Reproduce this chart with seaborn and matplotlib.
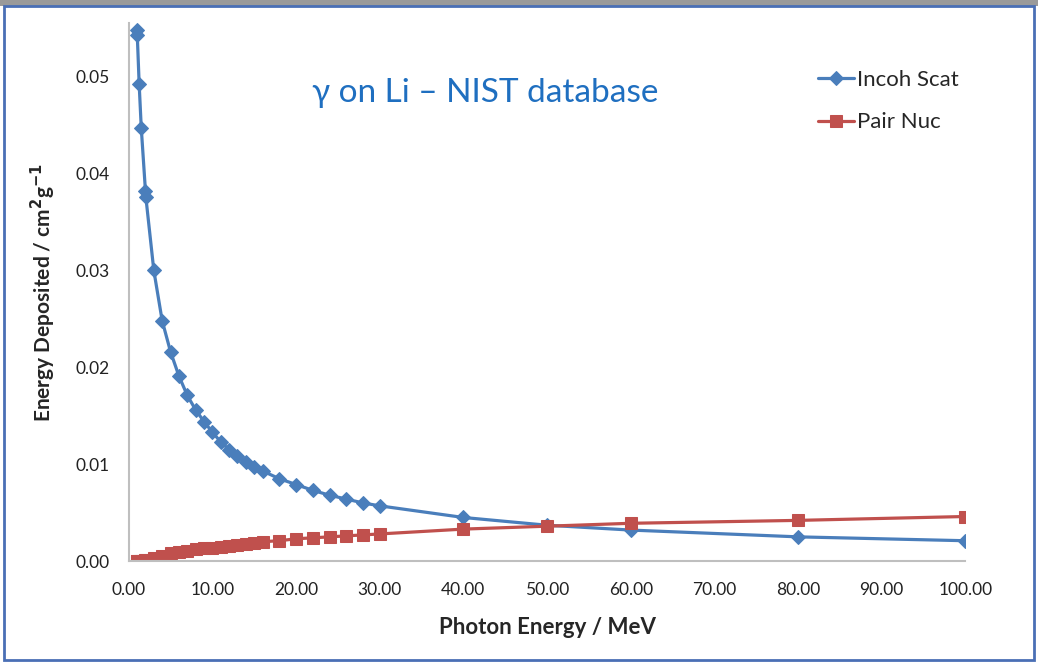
import numpy as np
import pandas as pd
import matplotlib
matplotlib.use("Agg")
import matplotlib.pyplot as plt
import seaborn as sns
from matplotlib.patches import Rectangle

# photon energies (MeV), NIST XCOM grid
energy = [1, 1.022, 1.25, 1.5, 2, 2.044, 3, 4, 5, 6, 7, 8, 9, 10, 11, 12, 13, 14, 15, 16,
          18, 20, 22, 24, 26, 28, 30, 40, 50, 60, 80, 100]
incoh_scat = [0.0548, 0.0543, 0.0492, 0.0447, 0.0382, 0.0376, 0.0300, 0.0248, 0.0216, 0.0191,
              0.0171, 0.0156, 0.0144, 0.0133, 0.0123, 0.0115, 0.0108, 0.0102, 0.0097, 0.0093,
              0.0085, 0.0079, 0.0073, 0.0068, 0.0064, 0.0060, 0.0057, 0.0045, 0.0037, 0.0032,
              0.0025, 0.0021]
pair_nuc = [0.0, 0.0, 0.00001, 0.00003, 0.0001, 0.0001, 0.0003, 0.0005, 0.0008, 0.0009,
            0.0010, 0.0012, 0.0013, 0.0014, 0.0015, 0.0016, 0.0017, 0.0018, 0.0019, 0.0020,
            0.0021, 0.0023, 0.0024, 0.0025, 0.0026, 0.0027, 0.0028, 0.0033, 0.0036, 0.0039,
            0.0042, 0.0046]
series_names = ["Incoh Scat", "Pair Nuc"]
x_ticks = [0, 10, 20, 30, 40, 50, 60, 70, 80, 90, 100]
y_ticks = [0.0, 0.01, 0.02, 0.03, 0.04, 0.05]

sns.set_style("white")
plt.rcParams['font.family'] = ['Lato', 'DejaVu Sans']

fig = plt.figure(figsize=(10.38, 6.64), dpi=100)
ax = fig.add_axes([0.124, 0.155, 0.806, 0.81])

blue = "#4a7ebb"
red = "#c0504d"

sns.lineplot(x=energy, y=incoh_scat, ax=ax, color=blue, lw=2.3, marker="D",
             markersize=7, markeredgecolor=blue, label=series_names[0])
sns.lineplot(x=energy, y=pair_nuc, ax=ax, color=red, lw=2.3, marker="s",
             markersize=8, markeredgecolor=red, label=series_names[1])

ax.set_xlim(0, 100)
ax.set_ylim(0, 0.0555)
ax.set_xticks(x_ticks)
ax.set_xticklabels([f"{t:.2f}" for t in x_ticks], fontsize=12.5, color="#222222")
ax.set_yticks(y_ticks)
ax.set_yticklabels([f"{t:.2f}" for t in y_ticks], fontsize=12.5, color="#222222")
ax.tick_params(axis="x", length=0, pad=15)
ax.tick_params(axis="y", length=0, pad=14)

for s in ["top", "right"]:
    ax.spines[s].set_visible(False)
for s in ["left", "bottom"]:
    ax.spines[s].set_color("#bfbfbf")
    ax.spines[s].set_linewidth(1.5)

ax.set_xlabel("Photon Energy / MeV", fontsize=16, fontweight="bold", labelpad=14)
ax.set_ylabel("Energy Deposited / cm$^\\mathbf{2}$g$^\\mathbf{-1}$", fontsize=15,
              fontweight="bold", labelpad=12)

ax.text(0.467, 0.86, "γ on Li – NIST database", transform=fig.transFigure,
        ha="center", va="center", fontsize=24, color="#1f6fc0")

leg = ax.legend(loc="upper left", bbox_to_anchor=(0.8, 0.95), frameon=False,
                fontsize=16, handlelength=1.6, handletextpad=0.15, labelspacing=1.0)

# frame around the chart
fig.patches.append(Rectangle((0, 0.991), 1, 0.009, transform=fig.transFigure,
                             facecolor="#9a9a9a", edgecolor="none", zorder=0))
fig.patches.append(Rectangle((0.004, 0.006), 0.992, 0.985, transform=fig.transFigure,
                             facecolor="none", edgecolor="#4a6fb5", lw=2, zorder=5))

fig.savefig("out.png", dpi=100)
